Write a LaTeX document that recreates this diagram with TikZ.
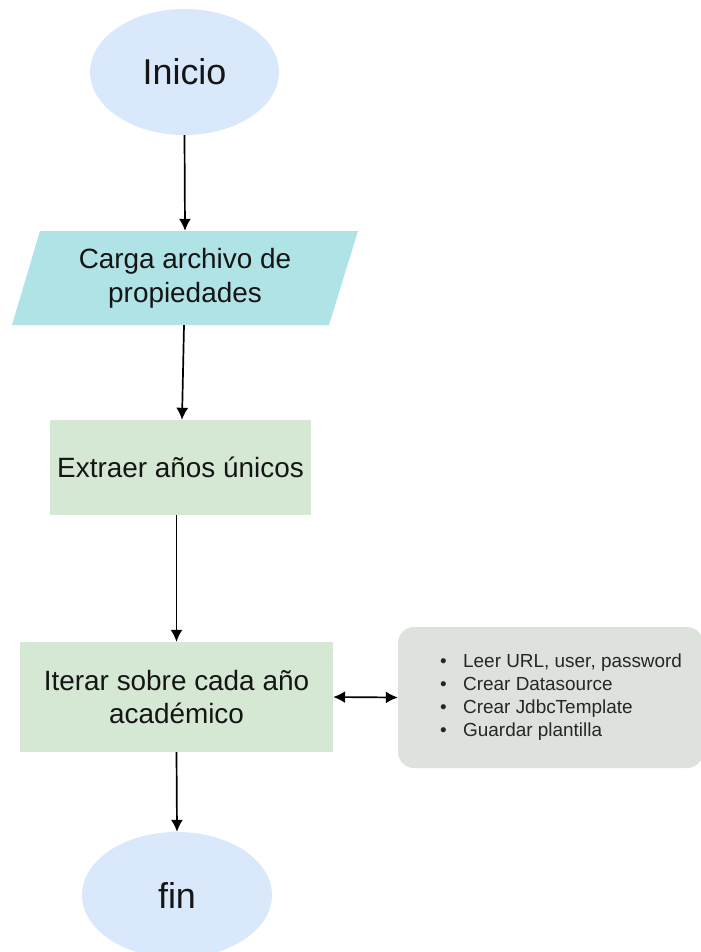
\documentclass[tikz,border=0pt]{standalone}
\usepackage{fontspec}
\setmainfont{Liberation Sans}
\usetikzlibrary{arrows.meta}
\usetikzlibrary{shapes.geometric}
\definecolor{startfill}{HTML}{DAE8FC}
\definecolor{iofill}{HTML}{B0E3E6}
\definecolor{procfill}{HTML}{D5E8D4}
\definecolor{notefill}{HTML}{DEE2DD}
\definecolor{inkcol}{HTML}{151515}

\begin{document}
\begin{tikzpicture}[>={Latex[length=12bp,width=12bp]},line join=bevel,text=inkcol,
  terminal/.style={ellipse,fill=startfill,draw=none,minimum width=189bp,minimum height=126bp,inner sep=0pt,font=\fontsize{36}{43}\selectfont},
  process/.style={rectangle,fill=procfill,draw=none,align=center,inner sep=0pt,font=\fontsize{28}{34}\selectfont},
  flow/.style={black,line width=1.7bp,->},]
\useasboundingbox (0bp,0bp) rectangle (701bp,-952bp);
%%
\fill [iofill] (40bp,-231bp) -- (358bp,-231bp) -- (329bp,-325bp) -- (12bp,-325bp) -- cycle;
\node (node_0) at (184.5bp,-72bp) [terminal] {Inicio};
  \node (node_1) at (185bp,-278bp) [process,fill=none,minimum width=318bp,minimum height=94bp] {Carga archivo de\\propiedades};
  \node (node_2) at (180.5bp,-467.5bp) [process,minimum width=261bp,minimum height=95bp] {Extraer años únicos};
  \node (node_3) at (176.5bp,-697bp) [process,minimum width=313bp,minimum height=110bp] {Iterar sobre cada año\\académico};
  \node (node_4) at (550.5bp,-697.5bp) [rectangle,rounded corners=16bp,fill=notefill,draw=none,minimum width=305bp,minimum height=141bp] {};
  \node (node_5) at (440bp,-697bp) [anchor=west,align=left,inner sep=0pt,text=black!85,font=\fontsize{19}{23}\selectfont] {\makebox[23bp][l]{\textbullet}Leer URL, user, password\\\makebox[23bp][l]{\textbullet}Crear Datasource\\\makebox[23bp][l]{\textbullet}Crear JdbcTemplate\\\makebox[23bp][l]{\textbullet}Guardar plantilla};
  \node (node_6) at (177bp,-895bp) [terminal,minimum width=190bp] {fin};
  \draw [flow] (node_0.south) -- (node_1.north);
  \draw [flow] ([xshift=-1bp]node_1.south) -- ([xshift=1.5bp]node_2.north);
  \draw [flow] (node_2.south -| node_3.north) -- (node_3.north);
  \draw [flow] (node_3.south) -- (node_6.north);
  \draw [flow,<->] (node_3.east) -- (node_4.west);
%
\end{tikzpicture}
\end{document}
